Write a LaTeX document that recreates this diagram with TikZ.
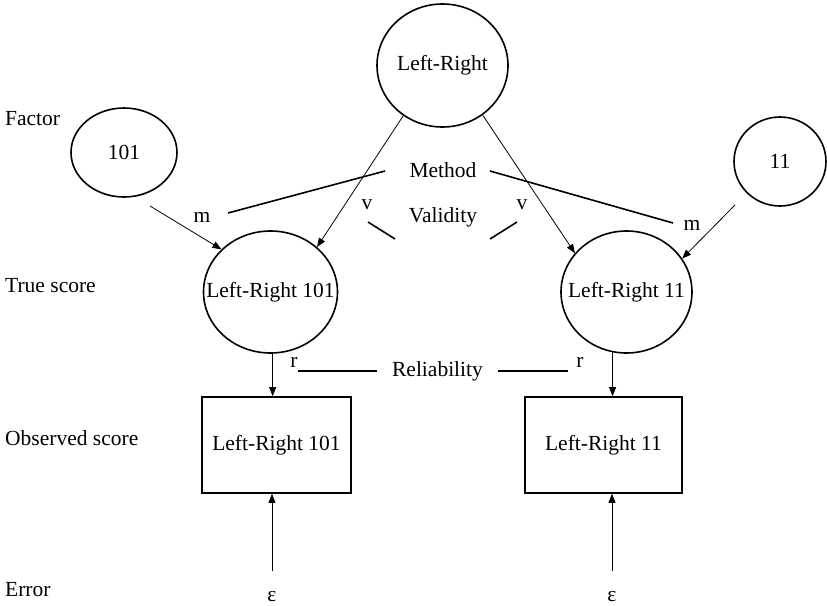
\documentclass[tikz,border=0pt]{standalone}
\usepackage{fontspec}
\setmainfont{Liberation Serif}
\usetikzlibrary{shapes.geometric,arrows.meta}
\newcommand{\zw}[1]{\makebox[0pt]{#1}}
\begin{document}
\begin{tikzpicture}[x=1pt,y=-1pt,
  font=\fontsize{21.5}{26}\selectfont,
  latent/.style={draw,ellipse,line width=1.6pt,inner sep=0pt},
  obsbox/.style={draw,rectangle,line width=1.6pt,inner sep=0pt},
  lbl/.style={inner sep=0pt},
  rowlbl/.style={anchor=base west,inner sep=0pt},
  pathar/.style={-{Triangle[length=9pt,width=7pt]},line width=0.8pt},
  link/.style={line width=1.6pt}]
\useasboundingbox (0,0) rectangle (827,605);

% row labels
\node[rowlbl] (rfac) at (5,125) {Factor};
\node[rowlbl] (rtrue) at (5,292) {True score};
\node[rowlbl] (robs) at (5,445) {Observed score};
\node[rowlbl] (rerr) at (5,596) {Error};

% latent variables
\node[latent,minimum width=131pt,minimum height=123pt] (top) at (442.5,65.5) {\zw{Left-Right}};
\node[latent,minimum width=106pt,minimum height=89pt] (f101) at (124,152.5) {\zw{101}};
\node[latent,minimum width=92pt,minimum height=89pt] (f11) at (780,161.5) {\zw{11}};
\node[latent,minimum width=134pt,minimum height=122pt] (lt) at (270.5,292) {\zw{Left-Right 101}};
\node[latent,minimum width=131pt,minimum height=122pt] (rt) at (626.5,292) {\zw{Left-Right 11}};

% observed
\node[obsbox,minimum width=149pt,minimum height=96pt] (lbox) at (276.5,445) {Left-Right 101};
\node[obsbox,minimum width=157pt,minimum height=96pt] (rbox) at (603.5,445) {Left-Right 11};

% errors
\node[lbl] (e1) at (272,597) {ε};
\node[lbl] (e2) at (612,597) {ε};

% coefficient labels
\node[lbl] (method) at (443,170) {Method};
\node[lbl] (validity) at (443,217) {Validity};
\node[lbl] (reliab) at (437.5,371) {Reliability};
\node[lbl] (m1) at (202,217) {m};
\node[lbl] (m2) at (692,225) {m};
\node[lbl] (v1) at (367,205) {v};
\node[lbl] (v2) at (522,205) {v};
\node[lbl] (r1) at (294,362) {r};
\node[lbl] (r2) at (580,362) {r};

% free ends
\coordinate (m1s) at (150,206);
\coordinate (m2s) at (735,205);
\coordinate (e1s) at (272,571);
\coordinate (e2s) at (612,571);
\coordinate (mla) at (228,213);
\coordinate (mlb) at (385,171);
\coordinate (mra) at (490,171);
\coordinate (mrb) at (673,223);
\coordinate (vla) at (368,222);
\coordinate (vlb) at (395,239);
\coordinate (vra) at (490,239);
\coordinate (vrb) at (517,222);
\coordinate (rla) at (298,371);
\coordinate (rlb) at (377,371);
\coordinate (rra) at (498,371);
\coordinate (rrb) at (568,371);

% paths
\draw[pathar] (top.-128) -- (lt.44);
\draw[pathar] (top.-51) -- (rt.143);
\draw[pathar] (m1s) -- (lt.139);
\draw[pathar] (m2s) -- (rt.31);
\draw[pathar] (lt.-88) -- (lt.-88 |- lbox.north);
\draw[pathar] (rt.-103) -- (rt.-103 |- rbox.north);
\draw[pathar] (e1s) -- (e1s |- lbox.south);
\draw[pathar] (e2s) -- (e2s |- rbox.south);

% bracket lines
\draw[link] (mla) -- (mlb);
\draw[link] (mra) -- (mrb);
\draw[link] (vla) -- (vlb);
\draw[link] (vra) -- (vrb);
\draw[link] (rla) -- (rlb);
\draw[link] (rra) -- (rrb);
\end{tikzpicture}
\end{document}
